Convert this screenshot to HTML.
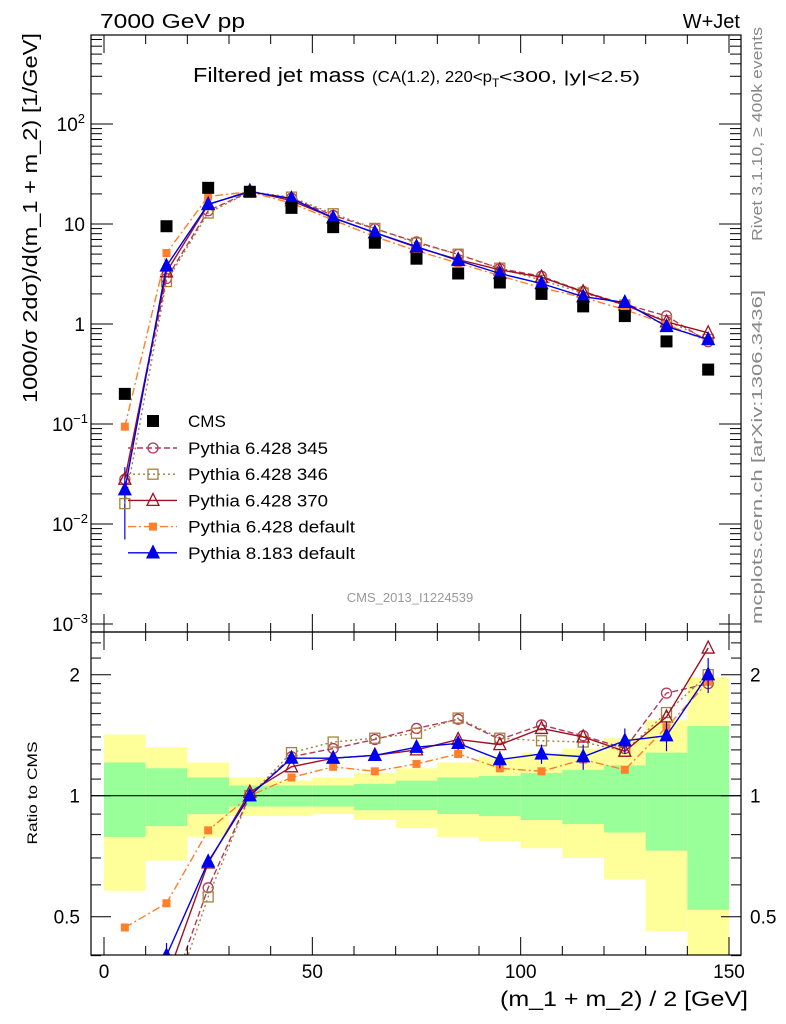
<!DOCTYPE html>
<html><head><meta charset="utf-8"><style>
html,body{margin:0;padding:0;background:#fff;overflow:hidden;width:786px;height:1024px;}
svg{display:block;font-family:"Liberation Sans",sans-serif;}
</style></head><body>
<svg id="c" width="786" height="1024" viewBox="0 0 786 1024" xmlns="http://www.w3.org/2000/svg">
<text x="100" y="28" font-size="20" textLength="145" lengthAdjust="spacingAndGlyphs">7000 GeV pp</text>
<text x="740" y="28" font-size="20" text-anchor="end">W+Jet</text>
<text x="193" y="82" font-size="20" textLength="172" lengthAdjust="spacingAndGlyphs">Filtered jet mass</text>
<text x="372" y="82" font-size="16"><tspan textLength="120" lengthAdjust="spacingAndGlyphs">(CA(1.2), 220&lt;p</tspan><tspan font-size="12" dy="5">T</tspan><tspan font-size="16" dy="-5" x="499" textLength="141" lengthAdjust="spacingAndGlyphs">&lt;300, |y|&lt;2.5)</tspan></text>
<text x="410" y="602" font-size="13" fill="#999" text-anchor="middle">CMS_2013_I1224539</text>
<text transform="translate(37,218) rotate(-90)" font-size="20" text-anchor="middle" textLength="370" lengthAdjust="spacingAndGlyphs">1000/σ 2dσ)/d(m_1 + m_2) [1/GeV]</text>
<text transform="translate(37,793) rotate(-90)" font-size="14" text-anchor="middle" textLength="103" lengthAdjust="spacingAndGlyphs">Ratio to CMS</text>
<text transform="translate(762,241) rotate(-90)" font-size="15" fill="#888" textLength="214" lengthAdjust="spacingAndGlyphs">Rivet 3.1.10, ≥ 400k events</text>
<text transform="translate(762,624) rotate(-90)" font-size="15" fill="#888" textLength="334" lengthAdjust="spacingAndGlyphs">mcplots.cern.ch [arXiv:1306.3436]</text>
<text x="748" y="1006" font-size="21" text-anchor="end" textLength="248" lengthAdjust="spacingAndGlyphs">(m_1 + m_2) / 2 [GeV]</text>
<g id="g"></g>
</svg>
<script>
const bins=[5,15,25,35,45,55,65,75,85,95,105,115,125,135,145];
const cms=[0.2,9.5,23,21,14.5,9.3,6.5,4.5,3.2,2.6,2.0,1.5,1.2,0.67,0.35];
const r345=[0.14,0.3,0.59,1.0,1.25,1.31,1.38,1.47,1.55,1.38,1.5,1.41,1.31,1.8,1.9];
const r346=[0.08,0.28,0.56,1.0,1.28,1.36,1.39,1.43,1.56,1.39,1.37,1.36,1.29,1.61,2.0];
const r370=[0.14,0.35,0.68,1.02,1.18,1.24,1.26,1.30,1.38,1.34,1.47,1.40,1.29,1.57,2.33];
const r6def=[0.47,0.54,0.82,1.0,1.11,1.18,1.15,1.2,1.27,1.17,1.15,1.23,1.16,1.48,1.92];
const r8def=[0.11,0.40,0.685,1.0,1.24,1.24,1.26,1.32,1.35,1.23,1.27,1.25,1.37,1.41,2.0];
const r8err=[0.075,0.03,0.02,0.01,0.02,0.02,0.03,0.04,0.05,0.06,0.07,0.09,0.1,0.12,0.2];
const yelUp=[1.42,1.32,1.21,1.11,1.09,1.11,1.14,1.17,1.21,1.25,1.28,1.31,1.39,1.54,1.97];
const yelDn=[0.58,0.69,0.79,0.89,0.89,0.90,0.87,0.83,0.79,0.77,0.74,0.70,0.62,0.46,0.3];
const grnUp=[1.21,1.17,1.11,1.06,1.06,1.06,1.07,1.09,1.11,1.12,1.14,1.16,1.19,1.28,1.49];
const grnDn=[0.79,0.84,0.90,0.94,0.94,0.94,0.92,0.92,0.90,0.89,0.87,0.85,0.81,0.73,0.52];
const xTicks=[0,50,100,150];
const series=[
 {n:'Pythia 6.428 345',r:r345,c:'#b03a5a',dash:'6,3',m:'circ'},
 {n:'Pythia 6.428 346',r:r346,c:'#a8803a',dash:'2,3',m:'sq'},
 {n:'Pythia 6.428 370',r:r370,c:'#a01020',dash:'',m:'tri'},
 {n:'Pythia 6.428 default',r:r6def,c:'#ff7f2a',dash:'8,3,2,3',m:'fsq'},
 {n:'Pythia 8.183 default',r:r8def,c:'#0000ee',dash:'',m:'ftri'}];
const g=document.getElementById('g');const NS='http://www.w3.org/2000/svg';
function el(t,a,p){const e=document.createElementNS(NS,t);for(const k in a)e.setAttribute(k,a[k]);(p||g).appendChild(e);return e;}
const L=91,R=741,T=35,MB=632,RB=955;
const xs=v=>104+v*625/150;
const ys=v=>324-100*Math.log10(v);
const yr=v=>795.7-121*Math.log2(v);
const clipR=el('clipPath',{id:'cr'});el('rect',{x:L,y:MB,width:R-L,height:RB-MB},clipR);
const clipM=el('clipPath',{id:'cm'});el('rect',{x:L,y:T,width:R-L,height:MB-T},clipM);
const bandG=el('g',{'clip-path':'url(#cr)'});
bins.forEach((b,i)=>{
 let e=el('rect',{x:xs(b-5),y:yr(yelUp[i]),width:xs(10)-xs(0),height:yr(yelDn[i])-yr(yelUp[i]),fill:'#ffff99'},bandG);
 
 e=el('rect',{x:xs(b-5),y:yr(grnUp[i]),width:xs(10)-xs(0),height:yr(grnDn[i])-yr(grnUp[i]),fill:'#99ff99'},bandG);
 
});
el('line',{x1:L,x2:R,y1:yr(1),y2:yr(1),stroke:'#000','stroke-width':1.2});
function marker(p,m,x,y,c,s){
 let e;const h=s||6;
 if(m==='circ')e=el('circle',{cx:x,cy:y,r:h-1,fill:'none',stroke:c,'stroke-width':1.3},p);
 else if(m==='sq')e=el('rect',{x:x-h+1,y:y-h+1,width:2*h-2,height:2*h-2,fill:'none',stroke:c,'stroke-width':1.3},p);
 else if(m==='fsq')e=el('rect',{x:x-4,y:y-4,width:8,height:8,fill:c},p);
 else if(m==='dsq')e=el('rect',{x:x-6,y:y-6,width:12,height:12,fill:c},p);
 else{const pts=`${x},${y-h-1} ${x-h},${y+h-1} ${x+h},${y+h-1}`;e=el('polygon',{points:pts,fill:m==='ftri'?c:'none',stroke:c,'stroke-width':1.3},p);}
 
}
const mainG=el('g',{'clip-path':'url(#cm)'});const ratG=el('g',{'clip-path':'url(#cr)'});
bins.forEach((b,i)=>{
 const x=xs(b),v=cms[i]*r8def[i],ev=cms[i]*r8err[i];
 const e=el('line',{x1:x,x2:x,y1:ys(v+ev),y2:ys(Math.max(v-ev,v*0.05)),stroke:'#0000ee','stroke-width':1.2},mainG);
 
});
series.forEach(s=>{
 const mp=bins.map((b,i)=>[xs(b),ys(cms[i]*s.r[i])]);
 const rp=bins.map((b,i)=>[xs(b),yr(s.r[i])]);
 let e=el('polyline',{points:mp.join(' '),fill:'none',stroke:s.c,'stroke-width':1.4,'stroke-dasharray':s.dash},mainG);
 
 e=el('polyline',{points:rp.join(' '),fill:'none',stroke:s.c,'stroke-width':1.4,'stroke-dasharray':s.dash},ratG);
 
 mp.forEach(p=>marker(mainG,s.m,p[0],p[1],s.c));
 rp.forEach(p=>marker(ratG,s.m,p[0],p[1],s.c));
});
bins.forEach((b,i)=>{
 const x=xs(b);
 let e=el('line',{x1:x,x2:x,y1:yr(r8def[i]+r8err[i]),y2:yr(r8def[i]-r8err[i]),stroke:'#0000ee','stroke-width':1.2},ratG);
 
 marker(mainG,'dsq',x,ys(cms[i]),'#000');
});
[[T,MB],[MB,RB]].forEach(([a,b])=>{let e=el('rect',{x:L,y:a,width:R-L,height:b-a,fill:'none',stroke:'#000','stroke-width':1.2});});
for(let v=0;v<=150;v+=10){const x=xs(v);const big=v%50===0;const l=big?18:9;
 [[T,1],[MB,-1],[MB,1],[RB,-1]].forEach(([y,d])=>el('line',{x1:x,x2:x,y1:y,y2:y+d*l,stroke:'#000'}));}
xTicks.forEach(v=>{const e=el('text',{x:xs(v),y:978,'font-size':19,'text-anchor':'middle'});e.textContent=v;});
const decLab=['10<tspan dy="-8" font-size="13">2</tspan>','10','1','10<tspan dy="-8" font-size="13">−1</tspan>','10<tspan dy="-8" font-size="13">−2</tspan>','10<tspan dy="-8" font-size="13">−3</tspan>'];
[2,1,0,-1,-2,-3].forEach((d,i)=>{const y=ys(Math.pow(10,d));
 el('line',{x1:L,x2:L+22,y1:y,y2:y,stroke:'#000'});el('line',{x1:R,x2:R-22,y1:y,y2:y,stroke:'#000'});
 const e=el('text',{x:d<0?88:85,y:y+7,'font-size':19,'text-anchor':'end'});e.innerHTML=decLab[i];
 for(let k=2;k<10;k++){const yy=ys(k*Math.pow(10,d));if(yy<T)continue;
  el('line',{x1:L,x2:L+11,y1:yy,y2:yy,stroke:'#000'});el('line',{x1:R,x2:R-11,y1:yy,y2:yy,stroke:'#000'});}
});
const rt=[0.4,0.6,0.7,0.8,0.9,1.1,1.2,1.3,1.4,1.5,1.6,1.7,1.8,1.9,2.2,2.4];
rt.forEach(v=>{const y=yr(v);el('line',{x1:L,x2:L+10,y1:y,y2:y,stroke:'#000'});el('line',{x1:R,x2:R-10,y1:y,y2:y,stroke:'#000'});});
[[0.5,'0.5'],[1,'1'],[2,'2']].forEach(([v,t])=>{const y=yr(v);
 el('line',{x1:L,x2:L+20,y1:y,y2:y,stroke:'#000'});el('line',{x1:R,x2:R-20,y1:y,y2:y,stroke:'#000'});
 let e=el('text',{x:80,y:y+7,'font-size':19,'text-anchor':'end'});e.textContent=t;
 e=el('text',{x:750,y:y+7,'font-size':19});e.textContent=t;
});
const lg=el('g',{});
marker(lg,'dsq',153,421,'#000');let t=el('text',{x:188,y:427,'font-size':17},lg);t.textContent='CMS';
const legLen=[140,140,140,167,167];
series.forEach((s,i)=>{const y=448+i*26.2;
 el('line',{x1:128,x2:177,y1:y,y2:y,stroke:s.c,'stroke-width':1.4,'stroke-dasharray':s.dash},lg);
 marker(lg,s.m,153,y,s.c);
 const e=el('text',{x:188,y:y+6,'font-size':17,textLength:legLen[i],lengthAdjust:'spacingAndGlyphs'},lg);e.textContent=s.n;
});
</script>
</body></html>
